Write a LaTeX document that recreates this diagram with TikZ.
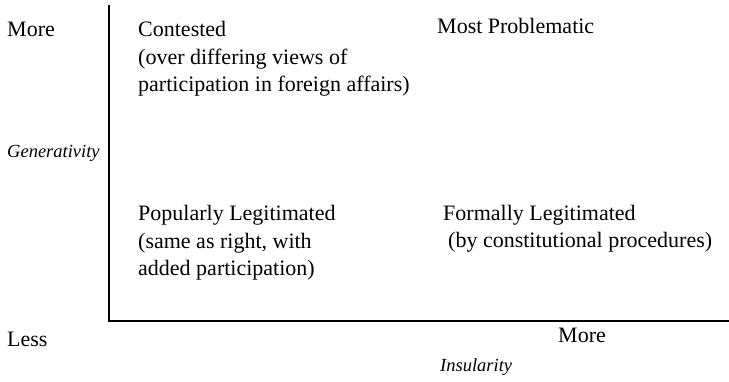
\documentclass[tikz,border=0pt]{standalone}
\usepackage{fontspec}
\setmainfont{Liberation Serif}
\usetikzlibrary{positioning}

\tikzset{
	lbl/.style={inner sep=0pt, anchor=base west, align=left,
		font=\fontsize{22}{27.5}\selectfont},
	axislbl/.style={lbl, font=\fontsize{18.5}{22}\selectfont\itshape},
	axis/.style={draw=black, line width=1.8pt}
}

\begin{document}
\begin{tikzpicture}[x=1pt,y=-1pt]
		\useasboundingbox (0,0) rectangle (729,382);

		% axes
		\coordinate (top) at (109,5);
		\coordinate (origin) at (109,321);
		\coordinate (right) at (729,321);
		\draw[axis] (top) -- (origin) -- (right);

		% vertical axis
		\node[lbl] (vmore) at (7,37) {More};
		\node[axislbl] (gen) at (7,158) {Generativity};
		\node[lbl] (vless) at (7,347) {Less};

		% horizontal axis
		\node[lbl] (hmore) at (558,342) {More};
		\node[axislbl] (ins) at (440,372) {Insularity};

		% quadrants (base = last line)
		\node[lbl] (contested) at (138,92) {Contested\\(over differing views of\\participation in foreign affairs)};
		\node[lbl] (problem) at (437,34) {Most Problematic};
		\node[lbl] (popular) at (138,276) {Popularly Legitimated\\(same as right, with\\added participation)};
		\node[lbl] (formal) at (443,248) {Formally Legitimated\\\hspace*{5pt}(by constitutional procedures)};
	\end{tikzpicture}
\end{document}
